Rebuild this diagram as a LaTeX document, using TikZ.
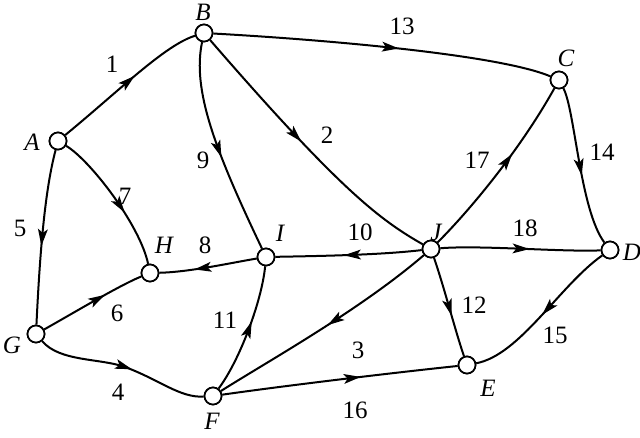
\documentclass[tikz,border=0pt]{standalone}
\usepackage{fontspec}
\setmainfont{Liberation Serif}
\usetikzlibrary{decorations.markings}
\tikzset{
  vtx/.style={circle,draw,line width=1.7pt,fill=white,minimum size=17pt,inner sep=0pt},
  edge/.style={line width=2pt},
  arr/.style={postaction={decorate,decoration={markings,mark=at position #1 with {\fill (9pt,0pt) -- (-8pt,5pt) -- (-4pt,0pt) -- (-8pt,-5pt) -- cycle;}}}},
  lbl/.style={font=\fontsize{25}{29}\selectfont\itshape,inner sep=0pt},
  num/.style={font=\fontsize{25}{29}\selectfont,inner sep=0pt}
}
\begin{document}
\begin{tikzpicture}[x=1pt,y=-1pt]
\useasboundingbox (0,0) rectangle (640,437);
\coordinate (a) at (58,141);
\coordinate (b) at (204,33);
\coordinate (c) at (559,80);
\coordinate (d) at (610,250);
\coordinate (e) at (467,365);
\coordinate (f) at (213,396);
\coordinate (g) at (36,334);
\coordinate (h) at (150,273);
\coordinate (i) at (266,257);
\coordinate (j) at (431,249);
\node[vtx] (A) at (a) {};
\node[vtx] (B) at (b) {};
\node[vtx] (C) at (c) {};
\node[vtx] (D) at (d) {};
\node[vtx] (E) at (e) {};
\node[vtx] (F) at (f) {};
\node[vtx] (G) at (g) {};
\node[vtx] (H) at (h) {};
\node[vtx] (I) at (i) {};
\node[vtx] (J) at (j) {};

\draw[edge,arr=0.5] (A) .. controls (120,90) and (165,45) .. (B);
\draw[edge,arr=0.52] (B) .. controls (330,40) and (500,55) .. (C);
\draw[edge,arr=0.43] (B) .. controls (340,190) and (380,220) .. (J);
\draw[edge,arr=0.5] (B) .. controls (192,90) and (215,150) .. (I);
\draw[edge,arr=0.5] (A) .. controls (45,190) and (40,250) .. (G);
\draw[edge,arr=0.55] (A) .. controls (90,160) and (140,225) .. (H);
\draw[edge,arr=0.55] (G) .. controls (70,315) and (120,285) .. (H);
\draw[edge,arr=0.5] (G) .. controls (60,362) and (100,358) .. (125,367) .. controls (160,380) and (180,398) .. (F);
\draw[edge,arr=0.55] (I) .. controls (230,263) and (190,272) .. (H);
\draw[edge,arr=0.5] (F) .. controls (240,360) and (262,300) .. (I);
\draw[edge,arr=0.47] (J) .. controls (380,255) and (320,256) .. (I);
\draw[edge,arr=0.55] (J) .. controls (470,210) and (520,150) .. (C);
\draw[edge,arr=0.5] (C) .. controls (575,110) and (580,210) .. (D);
\draw[edge,arr=0.5] (J) .. controls (480,245) and (560,252) .. (D);
\draw[edge,arr=0.5] (J) .. controls (445,290) and (455,330) .. (E);
\draw[edge,arr=0.45] (D) .. controls (560,285) and (520,355) .. (E);
\draw[edge,arr=0.45] (J) .. controls (360,310) and (270,360) .. (F);
\draw[edge,arr=0.55] (F) .. controls (290,385) and (400,372) .. (E);

\node[vtx] at (a) {};
\node[vtx] at (b) {};
\node[vtx] at (c) {};
\node[vtx] at (d) {};
\node[vtx] at (e) {};
\node[vtx] at (f) {};
\node[vtx] at (g) {};
\node[vtx] at (h) {};
\node[vtx] at (i) {};
\node[vtx] at (j) {};

\node[lbl] (lA) at (32,142) {A};
\node[lbl] (lB) at (203,12) {B};
\node[lbl] (lC) at (566,58) {C};
\node[lbl] (lD) at (632,252) {D};
\node[lbl] (lE) at (488,388) {E};
\node[lbl] (lF) at (212,421) {F};
\node[lbl] (lG) at (12,345) {G};
\node[lbl] (lH) at (164,245) {H};
\node[lbl] (lI) at (280,233) {I};
\node[lbl] (lJ) at (436,232) {J};

\node[num] (n1) at (112,64) {1};
\node[num] (n13) at (402,26) {13};
\node[num] (n2) at (327,135) {2};
\node[num] (n9) at (203,160) {9};
\node[num] (n5) at (20,228) {5};
\node[num] (n7) at (125,196) {7};
\node[num] (n6) at (117,313) {6};
\node[num] (n4) at (118,392) {4};
\node[num] (n8) at (205,245) {8};
\node[num] (n11) at (225,320) {11};
\node[num] (n10) at (360,232) {10};
\node[num] (n17) at (477,160) {17};
\node[num] (n14) at (602,152) {14};
\node[num] (n18) at (525,228) {18};
\node[num] (n12) at (474,305) {12};
\node[num] (n15) at (555,335) {15};
\node[num] (n3) at (358,350) {3};
\node[num] (n16) at (355,410) {16};
\end{tikzpicture}
\end{document}
